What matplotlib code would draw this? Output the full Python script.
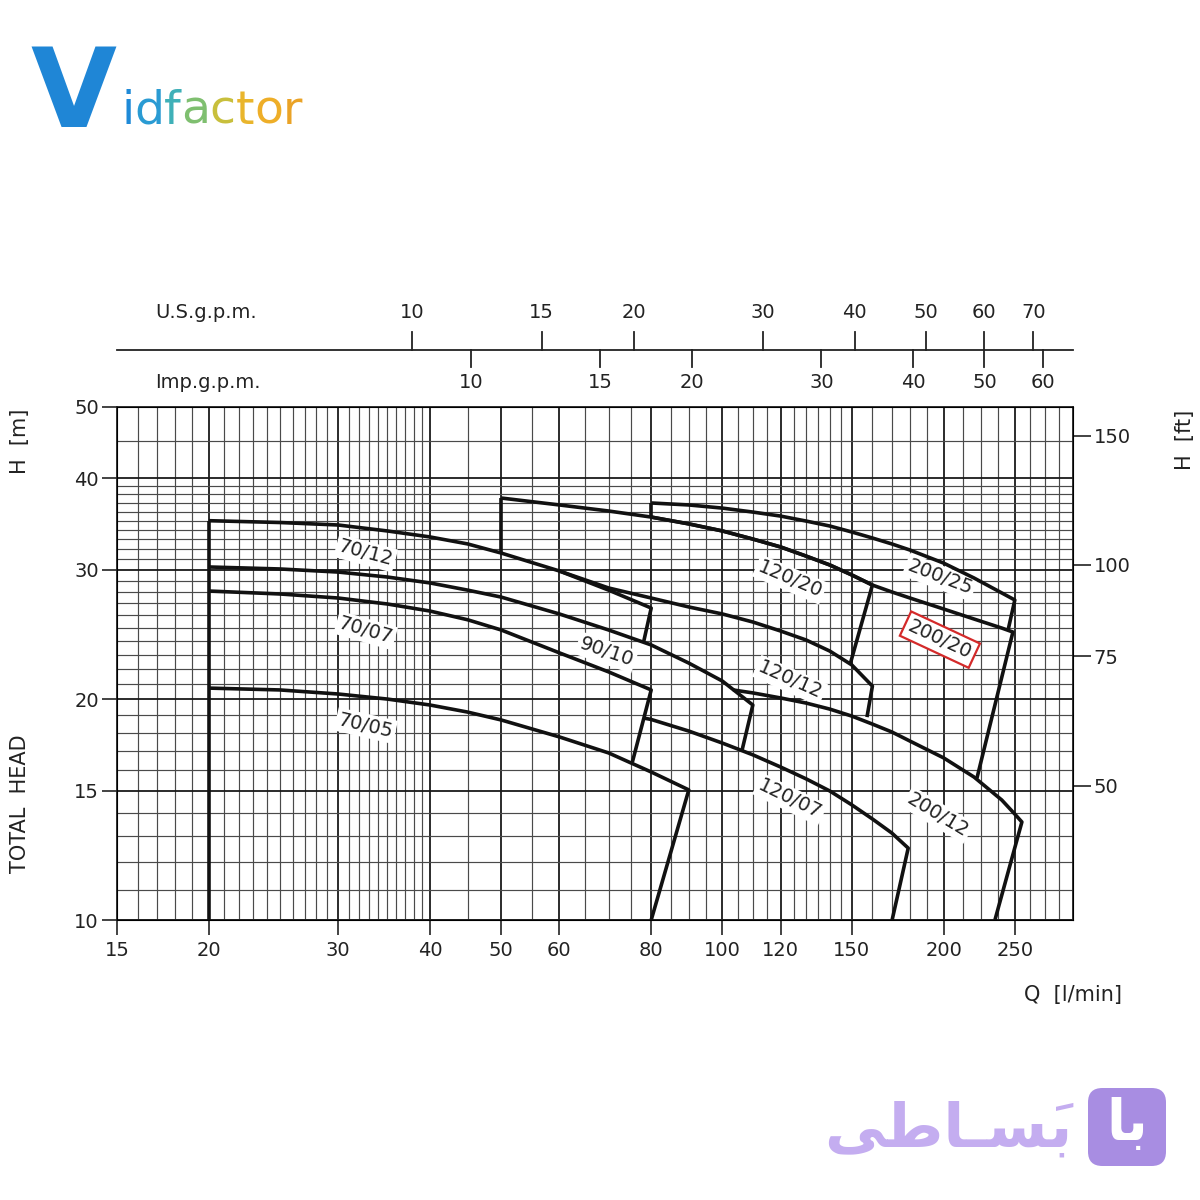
import matplotlib
matplotlib.use('Agg')
import matplotlib.pyplot as plt
from matplotlib.patches import FancyBboxPatch
from matplotlib.ticker import FixedLocator, NullLocator, NullFormatter, FuncFormatter

plt.rcParams['font.family'] = ['DejaVu Sans']
plt.rcParams['font.size'] = 14

# ---------------- data: Q [l/min], H [m] ----------------
# each curve ends with the foot of its slanted end line
q_70_12 = [20, 25, 30, 35, 40, 45, 50, 60, 70, 80, 78.1]
h_70_12 = [35.0, 34.8, 34.53, 33.89, 33.26, 32.54, 31.62, 29.89, 28.15, 26.61, 23.9]

q_90_10 = [20, 25, 30, 35, 40, 45, 50, 60, 70, 80, 90, 100, 110, 106.3]
h_90_10 = [30.27, 30.08, 29.79, 29.33, 28.79, 28.15, 27.54, 26.12, 24.84, 23.70,
           22.39, 21.16, 19.63, 17.0]

q_70_07 = [20, 25, 30, 35, 40, 45, 50, 60, 70, 80, 75.4]
h_70_07 = [28.07, 27.81, 27.46, 26.95, 26.36, 25.65, 24.84, 23.12, 21.78, 20.58, 16.4]

q_70_05 = [20, 25, 30, 35, 40, 45, 50, 60, 70, 80, 90, 80]
h_70_05 = [20.70, 20.58, 20.32, 20.00, 19.63, 19.20, 18.73, 17.76, 16.89, 15.91,
           15.04, 10.0]

q_120_20 = [50, 60, 70, 80, 90, 100, 110, 120, 130, 140, 150, 160, 149.2]
h_120_20 = [37.58, 36.77, 36.08, 35.40, 34.65, 33.89, 33.04, 32.23, 31.32, 30.46,
            29.52, 28.60, 22.3]

q_120_12 = [60, 70, 80, 90, 100, 110, 120, 130, 140, 150, 160, 157.3]
h_120_12 = [29.89, 28.34, 27.46, 26.70, 26.12, 25.47, 24.76, 24.07, 23.25, 22.26,
            20.83, 18.9]

q_120_07 = [78, 80, 90, 100, 110, 120, 130, 140, 150, 160, 170, 179, 170.2]
h_120_07 = [18.85, 18.76, 18.09, 17.42, 16.79, 16.16, 15.57, 14.99, 14.35, 13.73,
            13.14, 12.53, 10.0]

q_200_25 = [80, 90, 100, 110, 120, 130, 140, 150, 160, 170, 180, 200, 220, 240,
            250, 244.7]
h_200_25 = [37.0, 36.77, 36.41, 35.96, 35.51, 34.96, 34.42, 33.78, 33.15, 32.54,
            31.92, 30.64, 29.24, 27.90, 27.29, 24.8]

q_200_20 = [80, 90, 100, 110, 120, 130, 140, 150, 160, 170, 180, 200, 220, 240,
            248.5, 222]
h_200_20 = [35.40, 34.65, 33.89, 33.04, 32.23, 31.32, 30.46, 29.52, 28.60, 27.99,
            27.46, 26.53, 25.71, 24.99, 24.68, 15.6]

q_200_12 = [103.4, 110, 120, 130, 140, 150, 160, 170, 180, 200, 220, 240, 250,
            255.6, 234.9]
h_200_12 = [20.58, 20.39, 20.07, 19.75, 19.38, 18.96, 18.49, 18.04, 17.53, 16.63,
            15.66, 14.57, 13.94, 13.60, 10.0]

# left (start) verticals
q_start_20 = [20, 20]
h_start_20 = [35.0, 10.0]
q_start_50 = [50, 50]
h_start_50 = [37.58, 31.62]
q_start_80 = [80, 80]
h_start_80 = [37.0, 35.40]

# curve labels: text, Q, H, angle
lab_text = ['70/12', '70/07', '70/05', '90/10', '120/20', '120/12', '120/07',
            '200/25', '200/20', '200/12']
lab_q = [32.7, 32.7, 32.7, 69.5, 123.6, 123.6, 123.6, 197.7, 197.7, 196.5]
lab_h = [31.6, 24.8, 18.4, 23.15, 29.1, 21.2, 14.6, 29.3, 24.1, 13.9]
lab_rot = [-15, -16, -13, -19, -23, -24, -26, -21, -25, -31]

# axes ticks and grid
q_ticks = [15, 20, 30, 40, 50, 60, 80, 100, 120, 150, 200, 250]
q_grid = ([16, 17, 18, 19] + list(range(21, 30)) + list(range(31, 40)) + [45]
          + [55, 65, 70, 75, 85, 90, 95, 105, 110, 115, 125, 130, 135, 140, 145]
          + [160, 170, 180, 190, 212.5, 225, 237.5, 262.5, 275, 287.5])
h_ticks = [10, 15, 20, 30, 40, 50]
h_grid = ([11, 12, 13, 14, 16, 17, 18, 19] + list(range(21, 30))
          + list(range(31, 40)) + [45])
ft_ticks = [50, 75, 100, 150]

us_gpm = [10, 15, 20, 30, 40, 50, 60, 70]
imp_gpm = [10, 15, 20, 30, 40, 50, 60]
US_GAL = 3.78541
IMP_GAL = 4.54609

INK = '#222222'

# ---------------- figure ----------------
W = 1200.0
fig = plt.figure(figsize=(12, 12), dpi=100, facecolor='white')

ax = fig.add_axes([117 / W, 280 / W, 956 / W, 513 / W])
ax.set_xscale('log')
ax.set_yscale('log')
ax.set_xlim(15, 300)
ax.set_ylim(10, 50)

fmt = FuncFormatter(lambda v, p: '%g' % v)
ax.xaxis.set_major_locator(FixedLocator(q_ticks))
ax.xaxis.set_minor_locator(FixedLocator(q_grid))
ax.xaxis.set_major_formatter(fmt)
ax.xaxis.set_minor_formatter(NullFormatter())
ax.yaxis.set_major_locator(FixedLocator(h_ticks))
ax.yaxis.set_minor_locator(FixedLocator(h_grid))
ax.yaxis.set_major_formatter(fmt)
ax.yaxis.set_minor_formatter(NullFormatter())

ax.grid(which='major', color='#1a1a1a', lw=1.3)
ax.grid(which='minor', color='#4a4a4a', lw=0.85)
ax.set_axisbelow(True)
ax.tick_params(which='major', direction='out', length=11, width=1.2,
               labelsize=14, color=INK, labelcolor=INK)
ax.tick_params(axis='x', which='major', pad=4)
ax.tick_params(axis='y', which='major', pad=2)
ax.tick_params(which='minor', length=0)
for s in ax.spines.values():
    s.set_linewidth(1.3)
    s.set_color(INK)

ax2 = ax.twinx()
ax2.set_yscale('log')
ax2.set_ylim(10 / 0.3048, 50 / 0.3048)
ax2.yaxis.set_major_locator(FixedLocator(ft_ticks))
ax2.yaxis.set_minor_locator(NullLocator())
ax2.yaxis.set_major_formatter(fmt)
ax2.tick_params(which='major', direction='out', length=13, width=1.2,
                labelsize=14, pad=2, color=INK, labelcolor=INK)

curves = [(q_70_12, h_70_12), (q_90_10, h_90_10), (q_70_07, h_70_07),
          (q_70_05, h_70_05), (q_120_20, h_120_20), (q_120_12, h_120_12),
          (q_120_07, h_120_07), (q_200_25, h_200_25), (q_200_20, h_200_20),
          (q_200_12, h_200_12), (q_start_20, h_start_20),
          (q_start_50, h_start_50), (q_start_80, h_start_80)]
for q, h in curves:
    ax.plot(q, h, color='#111111', lw=2.6, solid_joinstyle='round',
            solid_capstyle='butt', zorder=6)

for t, q, h, r in zip(lab_text, lab_q, lab_h, lab_rot):
    box = dict(boxstyle='square,pad=0.12', fc='white', ec='none')
    if t == '200/20':
        box = dict(boxstyle='square,pad=0.2', fc='white', ec='#d42a2a', lw=1.6)
    ax.text(q, h, t, rotation=r, rotation_mode='anchor', ha='center',
            va='center', fontsize=14, color=INK, bbox=box, zorder=5)

# axis captions
fig.text(20 / W, 1 - 441 / W, 'H  [m]', rotation=90, ha='center', va='center',
         fontsize=15, color=INK)
fig.text(20 / W, 1 - 804 / W, 'TOTAL  HEAD', rotation=90, ha='center',
         va='center', fontsize=15, color=INK)
fig.text(1185 / W, 1 - 440 / W, 'H  [ft]', rotation=90, ha='center',
         va='center', fontsize=15, color=INK)
fig.text(1073 / W, 1 - 995 / W, 'Q  [l/min]', ha='center', va='center',
         fontsize=15, color=INK)

# ---------------- gallon scales on top ----------------
axt = fig.add_axes([117 / W, 800 / W, 956 / W, 110 / W])
axt.set_xscale('log')
axt.set_xlim(15, 300)
axt.set_ylim(400, 290)
axt.axis('off')
axt.plot([15, 300], [350, 350], color=INK, lw=1.3, clip_on=False)
for g in us_gpm:
    axt.plot([g * US_GAL] * 2, [332, 350], color=INK, lw=1.3)
    axt.text(g * US_GAL, 312, str(g), ha='center', va='center', fontsize=14,
             color=INK)
for g in imp_gpm:
    axt.plot([g * IMP_GAL] * 2, [350, 367], color=INK, lw=1.3)
    axt.text(g * IMP_GAL, 383, str(g), ha='center', va='center', fontsize=14,
             color=INK)
axt.text(0.04, 312, 'U.S.g.p.m.', transform=axt.get_yaxis_transform(),
         ha='left', va='center', fontsize=14, color=INK)
axt.text(0.04, 383, 'Imp.g.p.m.', transform=axt.get_yaxis_transform(),
         ha='left', va='center', fontsize=14, color=INK)

# ---------------- logos ----------------
fig.text(30 / W, 1 - 127 / W, 'V', fontsize=80, fontweight='bold',
         color='#1f86d6', ha='left', va='baseline')
letters = 'idfactor'
cols = ['#1f8ad8', '#2a9bd3', '#3fb0b8', '#7fbf70', '#c8bf3c', '#e9b52c',
        '#eeae28', '#eaa326']
prev = fig.text(121 / W, 1 - 124 / W, letters[0], fontsize=34,
                color=cols[0], ha='left', va='baseline')
for ch, c in zip(letters[1:], cols[1:]):
    prev = axt.annotate(ch, xy=(1, 0), xycoords=prev, va='bottom', ha='left',
                        fontsize=34, color=c, annotation_clip=False)

badge = FancyBboxPatch((1088 / W, 34 / W), 78 / W, 78 / W,
                       boxstyle='round,pad=0,rounding_size=0.012',
                       transform=fig.transFigure, fc='#a88de2', ec='none')
fig.patches.append(badge)
fig.text(1127 / W, 1 - 1125 / W, '\uFE8E\uFE91', fontsize=40,
         fontweight='bold', color='white', ha='center', va='center')
fig.text(1072 / W, 1 - 1130 / W, '\uFBFD\uFEC3\uFE8E\u0640\uFEB4\u064E\uFE91',
         fontsize=44, fontweight='bold', color='#c4adf0', ha='right',
         va='center')

fig.savefig('out.png', dpi=100, facecolor='white')
